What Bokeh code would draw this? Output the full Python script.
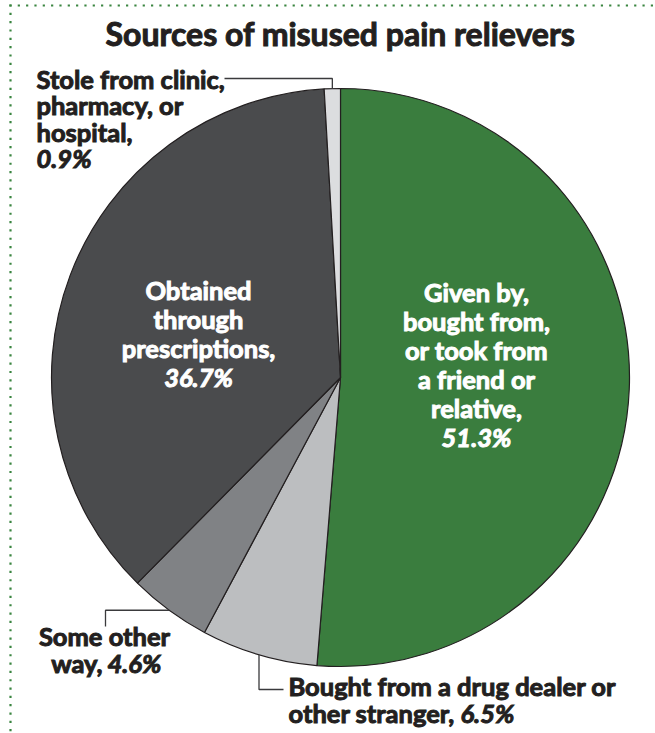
import numpy as np
from bokeh.plotting import figure
from bokeh.models import Range1d
from bokeh.core.properties import value
from bokeh.embed import file_html
from bokeh.resources import INLINE

# ---- data ----
categories = [
    "Given by, bought from, or took from a friend or relative",
    "Bought from a drug dealer or other stranger",
    "Some other way",
    "Obtained through prescriptions",
    "Stole from clinic, pharmacy, or hospital",
]
shares = [51.3, 6.5, 4.6, 36.7, 0.9]
share_labels = ["51.3%", "6.5%", "4.6%", "36.7%", "0.9%"]
colors = ["#3a7d3e", "#bcbec0", "#808285", "#4a4b4d", "#dcdddf"]
title = "Sources of misused pain relievers"

# ---- layout ----
W, H = 655, 733
CX, CY, R = 340, 377, 289
FONT = value("Lato")
INK = "#231f20"
DY = 10  # empirical baseline correction


def Y(py):
    return H - py


p = figure(width=W, height=H, x_range=Range1d(0, W), y_range=Range1d(0, H),
           output_backend="svg", toolbar_location=None, min_border=0,
           x_axis_type=None, y_axis_type=None)
p.grid.visible = False
p.outline_line_color = None
p.background_fill_color = "white"
p.border_fill_color = "white"

# dotted border (top and left)
dot_color = "#3a8540"
xs_top = np.arange(10, W - 2, 8.33)
p.scatter(xs_top, np.full(len(xs_top), Y(5)), marker="square", size=2.2,
          fill_color=dot_color, line_color=None)
ys_left = np.arange(5, H + 1, 8.33)
p.scatter(np.full(len(ys_left), 10), [Y(v) for v in ys_left], marker="square",
          size=2.2, fill_color=dot_color, line_color=None)

# pie
frac = np.array(shares) / sum(shares)
cum = np.concatenate([[0.0], np.cumsum(frac)])
start = np.pi / 2 - 2 * np.pi * cum[:-1]
end = np.pi / 2 - 2 * np.pi * cum[1:]
p.wedge(x=CX, y=Y(CY), radius=R, start_angle=start, end_angle=end,
        direction="clock", fill_color=colors, line_color=INK, line_width=1.2)

mid = (start + end) / 2
rim_x = CX + R * np.cos(mid)
rim_y = Y(CY) + R * np.sin(mid)

# leader lines
lc = "#3a3a3c"
p.line([rim_x[4], rim_x[4], 224], [rim_y[4], Y(78), Y(78)], line_color=lc, line_width=1.3)
p.line([rim_x[1], rim_x[1], 283], [rim_y[1], Y(689), Y(689)], line_color=lc, line_width=1.3)
p.line([rim_x[2], 105, 105], [rim_y[2], rim_y[2], Y(626)], line_color=lc, line_width=1.3)


def txt(x, y, s, align="left", color=INK, italic=False, size="25.5px"):
    kw = dict(x=[x], y=[Y(y - DY)], text=[s], text_font=FONT,
              text_font_style="bold italic" if italic else "bold",
              text_font_size=size, text_align=align, text_baseline="alphabetic",
              text_color=color)
    try:
        p.text(text_outline_color=color, **kw)
    except Exception:
        p.text(**kw)


# title
txt(340, 43, title, align="center", size="32px")

# stole label
for s, yy in zip(["Stole from clinic,", "pharmacy, or", "hospital,"], [88, 114.5, 141]):
    txt(36, yy, s)
txt(36, 167, share_labels[4], italic=True)

# prescriptions label (inside)
for s, yy in zip(["Obtained", "through", "prescriptions,"], [299, 328, 357]):
    txt(198, yy, s, align="center", color="white")
txt(198, 386, share_labels[3], align="center", color="white", italic=True)

# friend/relative label (inside)
for s, yy in zip(["Given by,", "bought from,", "or took from", "a friend or", "relative,"],
                 [301.5, 330.5, 359.5, 388.5, 417]):
    txt(476, yy, s, align="center", color="white")
txt(476, 446.5, share_labels[0], align="center", color="white", italic=True)

# some other way label
txt(104, 645, "Some other", align="center")
txt(102, 672, "way,", align="right")
txt(107, 672, share_labels[2], italic=True)

# bought from dealer label
txt(288, 695, "Bought from a drug dealer or")
txt(288, 722, "other stranger,")
txt(460, 722, share_labels[1], italic=True)

open("out.html", "w").write(file_html(p, INLINE))
